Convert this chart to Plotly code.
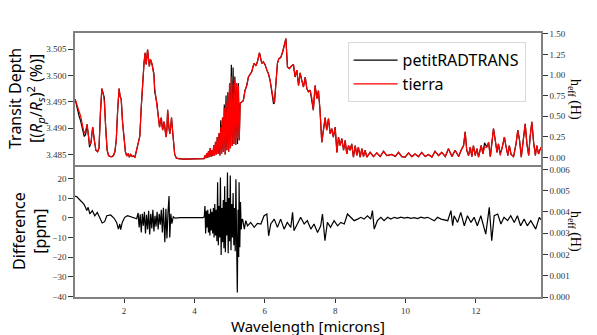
import plotly.graph_objects as go

# ---------------- data ----------------
wl_top = [
    0.61, 0.66, 0.72, 0.77, 0.82, 0.87, 0.91, 0.95, 0.99, 1.02,
    1.06, 1.11, 1.15, 1.20, 1.25, 1.29, 1.33, 1.37, 1.41, 1.44,
    1.48, 1.52, 1.56, 1.61, 1.66, 1.70, 1.74, 1.78, 1.82, 1.86,
    1.89, 1.92, 1.96, 2.00, 2.04, 2.08, 2.12, 2.15, 2.19, 2.23,
    2.27, 2.31, 2.35, 2.38, 2.42, 2.45, 2.49, 2.53, 2.57, 2.60,
    2.63, 2.67, 2.70, 2.72, 2.75, 2.77, 2.80, 2.82, 2.85, 2.87,
    2.91, 2.94, 2.96, 2.99, 3.01, 3.04, 3.06, 3.08, 3.10, 3.13,
    3.15, 3.18, 3.20, 3.22, 3.24, 3.27, 3.30, 3.33, 3.35, 3.38,
    3.40, 3.44, 3.49, 3.55, 3.70, 3.90, 4.10, 4.25,
    4.275, 4.300, 4.325, 4.350, 4.375, 4.400, 4.425, 4.450, 4.475, 4.500,
    4.525, 4.550, 4.575, 4.600, 4.625, 4.650, 4.675, 4.700, 4.725, 4.750,
    4.775, 4.800, 4.825, 4.850, 4.875, 4.900, 4.925, 4.950, 4.975, 5.000,
    5.025, 5.050, 5.075, 5.100, 5.125, 5.150, 5.175, 5.200, 5.225, 5.250,
    5.275, 5.300,
    5.35, 5.39, 5.44, 5.49, 5.535, 5.58, 5.63, 5.68, 5.70, 5.75,
    5.79, 5.85, 5.89, 5.915, 5.96, 6.01, 6.06, 6.10, 6.15, 6.20,
    6.25, 6.275, 6.32, 6.36, 6.40, 6.455, 6.51, 6.56, 6.60, 6.645,
    6.70, 6.76, 6.815, 6.86, 6.91, 6.96, 7.005, 7.05, 7.10, 7.15,
    7.195, 7.24, 7.29, 7.34, 7.38, 7.43, 7.48, 7.525, 7.57, 7.62,
    7.67, 7.715, 7.76, 7.81, 7.86, 7.905, 7.95, 8.00, 8.05, 8.095,
    8.14, 8.19, 8.24, 8.285, 8.33, 8.38, 8.425, 8.47, 8.52, 8.57,
    8.615, 8.66, 8.71, 8.76, 8.805, 8.85, 8.90, 8.995, 9.09, 9.185,
    9.28, 9.375, 9.47,
    9.61, 9.71, 9.80, 9.895, 9.99, 10.085, 10.18, 10.27, 10.37, 10.46,
    10.56, 10.65, 10.75, 10.84, 10.94, 11.03, 11.13, 11.22, 11.32, 11.41,
    11.51, 11.58, 11.65, 11.695, 11.74, 11.79, 11.84, 11.885, 11.93, 11.98,
    12.03, 12.075, 12.15, 12.20, 12.245, 12.31, 12.36, 12.41, 12.455, 12.50,
    12.55, 12.60, 12.64, 12.69, 12.74, 12.81, 12.85, 12.91, 12.95, 13.00,
    13.07, 13.14, 13.19, 13.24, 13.29, 13.35, 13.40, 13.45, 13.50, 13.54,
    13.59, 13.64, 13.69, 13.73, 13.78, 13.85,
]

tierra = [
    3.4955, 3.4945, 3.4932, 3.4922, 3.4905, 3.4890, 3.4895, 3.4907, 3.4885, 3.4868,
    3.4872, 3.4902, 3.4880, 3.4858, 3.4855, 3.4862, 3.4930, 3.4975, 3.4965, 3.4950,
    3.4900, 3.4858, 3.4848, 3.4846, 3.4846, 3.4848, 3.4855, 3.4878, 3.4935, 3.4975,
    3.4960, 3.4955, 3.4910, 3.4876, 3.4855, 3.4847, 3.4852, 3.4845, 3.4850, 3.4846,
    3.4847, 3.4845, 3.4855, 3.4867, 3.4872, 3.4885, 3.4940, 3.4990, 3.5025, 3.5043,
    3.5021, 3.5049, 3.5030, 3.5017, 3.5030, 3.5028, 3.5020, 3.5011, 3.5000, 3.4978,
    3.4959, 3.4945, 3.4931, 3.4915, 3.4902, 3.4915, 3.4920, 3.4905, 3.4896, 3.4912,
    3.4908, 3.4890, 3.4883, 3.4900, 3.4935, 3.4905, 3.4889, 3.4905, 3.4920, 3.4895,
    3.4873, 3.4850, 3.4843, 3.4842, 3.4841, 3.4841, 3.4841, 3.4842,
    3.4842, 3.4848, 3.4843, 3.4852, 3.4844, 3.4856, 3.4845, 3.4862, 3.4846, 3.4858,
    3.4847, 3.4868, 3.4848, 3.4874, 3.4850, 3.4883, 3.4851, 3.4890, 3.4848, 3.4902,
    3.4852, 3.4920, 3.4855, 3.4938, 3.4850, 3.4950, 3.4858, 3.4968, 3.4855, 3.4985,
    3.4862, 3.4998, 3.4866, 3.4985, 3.4870, 3.4992, 3.4868, 3.4985, 3.4880, 3.4980,
    3.4877, 3.4947,
    3.4950, 3.4952, 3.4972, 3.4981, 3.4997, 3.5001, 3.5007, 3.5020, 3.5023, 3.5018,
    3.5026, 3.5043, 3.5032, 3.5023, 3.5026, 3.5020, 3.5010, 3.5004, 3.4991, 3.4969,
    3.4952, 3.4948, 3.4991, 3.5023, 3.5032, 3.5034, 3.5045, 3.5061, 3.5070, 3.5016,
    3.5013, 3.5018, 3.5021, 3.4997, 3.5010, 3.4981, 3.5005, 3.4991, 3.4978, 3.4997,
    3.4975, 3.4969, 3.4972, 3.4956, 3.4934, 3.4981, 3.4956, 3.4971, 3.4934, 3.4873,
    3.4902, 3.4920, 3.4896, 3.4918, 3.4889, 3.4899, 3.4883, 3.4902, 3.4854, 3.4883,
    3.4867, 3.4880, 3.4858, 3.4877, 3.4851, 3.4867, 3.4858, 3.4870, 3.4845, 3.4867,
    3.4848, 3.4864, 3.4845, 3.4861, 3.4846, 3.4858, 3.4845, 3.4854, 3.4846, 3.4853,
    3.4846, 3.4856, 3.4848,
    3.4850, 3.4846, 3.4854, 3.4846, 3.4845, 3.4853, 3.4846, 3.4851, 3.4846, 3.4854,
    3.4846, 3.4850, 3.4845, 3.4856, 3.4848, 3.4854, 3.4846, 3.4861, 3.4846, 3.4858,
    3.4846, 3.4858, 3.4867, 3.4893, 3.4858, 3.4848, 3.4864, 3.4846, 3.4867, 3.4848,
    3.4861, 3.4845, 3.4867, 3.4851, 3.4864, 3.4864, 3.4873, 3.4846, 3.4877, 3.4899,
    3.4877, 3.4854, 3.4870, 3.4848, 3.4861, 3.4883, 3.4867, 3.4848, 3.4867, 3.4850,
    3.4846, 3.4870, 3.4896, 3.4877, 3.4845, 3.4883, 3.4908, 3.4870, 3.4848, 3.4883,
    3.4912, 3.4873, 3.4848, 3.4867, 3.4851, 3.4864,
]

prt = [
    3.4955, 3.4938, 3.4924, 3.4913, 3.4897, 3.4884, 3.4888, 3.4907, 3.4885, 3.4864,
    3.4872, 3.4902, 3.4880, 3.4858, 3.4855, 3.4862, 3.4930, 3.4975, 3.4965, 3.4958,
    3.4900, 3.4858, 3.4848, 3.4846, 3.4846, 3.4848, 3.4855, 3.4878, 3.4935, 3.4975,
    3.4960, 3.4955, 3.4910, 3.4876, 3.4855, 3.4847, 3.4852, 3.4845, 3.4850, 3.4846,
    3.4847, 3.4845, 3.4855, 3.4867, 3.4872, 3.4885, 3.4940, 3.4990, 3.5025, 3.5043,
    3.5021, 3.5049, 3.5030, 3.5017, 3.5030, 3.5028, 3.5020, 3.5011, 3.5003, 3.4970,
    3.4959, 3.4945, 3.4931, 3.4915, 3.4902, 3.4915, 3.4920, 3.4905, 3.4896, 3.4912,
    3.4908, 3.4890, 3.4883, 3.4900, 3.4935, 3.4905, 3.4889, 3.4905, 3.4920, 3.4895,
    3.4873, 3.4850, 3.4843, 3.4842, 3.4841, 3.4841, 3.4841, 3.4842,
    3.4842, 3.4848, 3.4843, 3.4852, 3.4844, 3.4856, 3.4845, 3.4862, 3.4846, 3.4858,
    3.4847, 3.4868, 3.4848, 3.4874, 3.4850, 3.4883, 3.4851, 3.4890, 3.4848, 3.4915,
    3.4852, 3.4920, 3.4855, 3.4945, 3.4850, 3.4962, 3.4858, 3.4968, 3.4855, 3.4985,
    3.4862, 3.5020, 3.4866, 3.5015, 3.4870, 3.4998, 3.4868, 3.4985, 3.4870, 3.4985,
    3.4877, 3.4947,
    3.4950, 3.4952, 3.4972, 3.4981, 3.4997, 3.5001, 3.5007, 3.5020, 3.5023, 3.5018,
    3.5026, 3.5043, 3.5032, 3.5023, 3.5026, 3.5020, 3.5010, 3.5004, 3.4991, 3.4969,
    3.4946, 3.4948, 3.4991, 3.5023, 3.5032, 3.5034, 3.5045, 3.5061, 3.5070, 3.5016,
    3.5013, 3.5018, 3.5021, 3.4997, 3.5010, 3.4981, 3.5005, 3.4991, 3.4978, 3.4997,
    3.4975, 3.4969, 3.4972, 3.4950, 3.4934, 3.4981, 3.4956, 3.4971, 3.4934, 3.4873,
    3.4902, 3.4920, 3.4896, 3.4918, 3.4889, 3.4899, 3.4883, 3.4902, 3.4854, 3.4883,
    3.4867, 3.4880, 3.4858, 3.4877, 3.4851, 3.4867, 3.4858, 3.4870, 3.4845, 3.4867,
    3.4848, 3.4864, 3.4845, 3.4861, 3.4846, 3.4858, 3.4845, 3.4854, 3.4846, 3.4853,
    3.4846, 3.4856, 3.4848,
    3.4850, 3.4846, 3.4854, 3.4846, 3.4845, 3.4853, 3.4846, 3.4851, 3.4846, 3.4854,
    3.4846, 3.4850, 3.4845, 3.4856, 3.4848, 3.4854, 3.4846, 3.4861, 3.4846, 3.4858,
    3.4846, 3.4858, 3.4867, 3.4893, 3.4858, 3.4848, 3.4864, 3.4846, 3.4867, 3.4848,
    3.4861, 3.4845, 3.4867, 3.4851, 3.4872, 3.4864, 3.4873, 3.4846, 3.4877, 3.4899,
    3.4877, 3.4854, 3.4870, 3.4852, 3.4861, 3.4883, 3.4867, 3.4848, 3.4867, 3.4850,
    3.4846, 3.4870, 3.4896, 3.4877, 3.4845, 3.4883, 3.4908, 3.4870, 3.4848, 3.4883,
    3.4912, 3.4873, 3.4848, 3.4867, 3.4851, 3.4864,
]

wl_diff = [
    0.61, 0.67, 0.72, 0.78, 0.86, 0.90, 0.94, 0.98, 1.03, 1.10,
    1.17, 1.24, 1.32, 1.38, 1.45, 1.51, 1.62, 1.72, 1.79, 1.84,
    1.88, 1.905, 1.95, 2.02, 2.10, 2.20, 2.28, 2.36,
    2.40, 2.43, 2.46, 2.49, 2.52, 2.55, 2.58, 2.61, 2.64, 2.67,
    2.70, 2.73, 2.76, 2.79, 2.82, 2.85, 2.88, 2.91, 2.94, 2.97,
    3.00, 3.03, 3.06, 3.09, 3.12, 3.16, 3.19, 3.22, 3.25, 3.28,
    3.30, 3.33, 3.36, 3.40, 3.45, 3.60, 4.00, 4.25,
    4.28, 4.30, 4.32, 4.34, 4.36, 4.38, 4.40, 4.42, 4.44, 4.46,
    4.48, 4.50, 4.52, 4.54, 4.56, 4.58, 4.60, 4.62, 4.64, 4.66,
    4.68, 4.70, 4.72, 4.74, 4.76, 4.78, 4.80, 4.82, 4.84, 4.86,
    4.88, 4.90, 4.92, 4.94, 4.96, 4.98, 5.00, 5.02, 5.04, 5.06,
    5.08, 5.10, 5.12, 5.14, 5.16, 5.18, 5.20, 5.22, 5.24, 5.26,
    5.27, 5.29, 5.31, 5.33, 5.35, 5.37,
    5.42, 5.46, 5.51, 5.60, 5.70, 5.79, 5.89, 5.98, 6.06, 6.11,
    6.17, 6.27, 6.36, 6.45, 6.55, 6.64, 6.74, 6.79, 6.83, 6.93,
    7.02, 7.12, 7.21, 7.31, 7.40, 7.50, 7.59, 7.64, 7.71, 7.78,
    7.87, 7.97, 8.07, 8.16, 8.26, 8.35, 8.45, 8.54, 8.64, 8.73,
    8.82, 8.92, 9.01, 9.06, 9.11, 9.20, 9.30, 9.39, 9.49, 9.58,
    9.68, 9.77, 9.87, 9.96, 10.06, 10.15, 10.25, 10.34, 10.44, 10.53,
    10.63, 10.72, 10.82, 10.91, 11.01, 11.20, 11.29, 11.34, 11.38, 11.48,
    11.57, 11.67, 11.76, 11.86, 11.95, 12.04, 12.14, 12.28, 12.38, 12.45,
    12.52, 12.62, 12.71, 12.80, 12.90, 12.99, 13.09, 13.18, 13.27, 13.37,
    13.46, 13.56, 13.70, 13.80, 13.85,
]

diff_ppm = [
    11.0, 10.5, 9.5, 8.5, 6.9, 5.5, 3.6, 5.3, 1.9, 3.6,
    1.0, 2.7, -0.3, -2.7, -2.0, 1.0, 1.4, -0.3, -2.4, -5.8,
    -3.2, -6.1, -2.4, 0.2, 1.0, 0.5, 0.2, -0.5,
    2.5, -5.0, 1.8, -7.5, 2.0, -4.0, 3.0, -8.0, 1.5, -6.0,
    3.5, -8.5, 2.0, -5.5, 4.0, -7.0, 1.0, -4.5, 3.0, -6.0,
    2.0, -3.5, 4.0, -7.5, 5.0, -12.5, 4.5, -10.5, 3.0, 11.0,
    -10.0, 2.0, -3.0, 0.5, -0.2, 0.0, 0.0, 0.0,
    0.5, 6.0, -8.0, 3.5, -5.0, 4.0, -7.5, 2.0, -9.0, 4.5,
    -6.5, 3.0, -8.0, 5.0, -10.0, 7.0, -9.0, 4.0, -12.0, 18.0,
    -14.0, 6.0, -10.0, 20.5, -19.0, 5.0, -12.5, 9.0, -15.5, 16.0,
    -17.5, 8.0, -9.0, 23.0, -18.0, 10.0, -12.0, 21.5, -16.5, 7.0,
    -10.0, 12.5, -14.0, 5.0, -17.0, 19.5, -12.0, -38.0, 4.0, -20.0,
    18.0, -15.0, 8.0, -6.0, -1.0, -0.7,
    -5.8, -1.5, -4.1, -2.4, -4.9, -2.9, -3.2, 1.0, 1.9, -9.2,
    -3.2, -0.7, -4.9, -0.7, -5.8, -2.4, -4.9, 2.7, -6.6, -3.2,
    0.2, -3.2, -1.5, -5.8, -3.2, -7.5, -4.1, 1.9, -11.7, -2.4,
    -4.9, -1.5, -4.1, -2.4, -3.2, 1.9, 0.2, -1.5, -0.7, 0.2,
    -0.7, 1.0, -0.7, 3.6, -5.8, -1.5, 0.2, -1.5, 0.2, -0.7,
    0.2, -0.3, 0.3, -0.2, 0.2, -0.3, 0.0, -0.4, 0.3, -0.2,
    0.2, -0.5, -1.5, 0.2, -0.7, -1.5, 3.6, -4.1, 1.0, -2.4,
    2.7, -4.1, 1.0, -2.4, 0.2, -4.1, 1.0, -8.3, 5.3, -11.7,
    1.0, 1.9, -3.2, 0.2, -1.5, 1.0, -2.4, 1.0, -4.1, -0.7,
    -4.1, -1.5, -5.8, 0.2, -1.0,
]

assert len(wl_top) == len(tierra) == len(prt)
assert len(wl_diff) == len(diff_ppm)

x_ticks = [2, 4, 6, 8, 10, 12]
depth_ticks = [3.485, 3.490, 3.495, 3.500, 3.505]
heff_top_ticks = [0.00, 0.25, 0.50, 0.75, 1.00, 1.25, 1.50]
diff_ticks = [-40, -30, -20, -10, 0, 10, 20]
heff_bot_ticks = [0.000, 0.001, 0.002, 0.003, 0.004, 0.005, 0.006]

# ---------------- styling ----------------
FRAME = "#808080"
TICKFONT = dict(family="Liberation Serif, serif", size=9, color="#333333")
SANS = "Noto Sans, Open Sans, sans-serif"

fig = go.Figure()

fig.add_trace(go.Scatter(x=wl_top, y=prt, mode="lines", name="petitRADTRANS",
                         line=dict(color="black", width=1.2),
                         xaxis="x2", yaxis="y2"))
fig.add_trace(go.Scatter(x=wl_top, y=tierra, mode="lines", name="tierra",
                         line=dict(color="#ff0000", width=1.2),
                         xaxis="x2", yaxis="y2"))
fig.add_trace(go.Scatter(x=wl_diff, y=diff_ppm, mode="lines", showlegend=False,
                         line=dict(color="black", width=1.2),
                         xaxis="x", yaxis="y"))
# invisible traces to activate right-hand axes
fig.add_trace(go.Scatter(x=[None], y=[None], mode="lines", showlegend=False,
                         hoverinfo="skip", xaxis="x2", yaxis="y3"))
fig.add_trace(go.Scatter(x=[None], y=[None], mode="lines", showlegend=False,
                         hoverinfo="skip", xaxis="x", yaxis="y4"))

common_y = dict(showgrid=False, zeroline=False, showline=True, linecolor=FRAME,
                linewidth=1.6, ticks="outside", ticklen=5, tickwidth=1,
                tickcolor="#333333", tickfont=TICKFONT)

fig.update_layout(
    width=597, height=335,
    paper_bgcolor="white", plot_bgcolor="white",
    margin=dict(l=75, r=56, t=33, b=38),
    showlegend=True,
    legend=dict(x=0.585, y=0.965, xanchor="left", yanchor="top",
                bgcolor="rgba(255,255,255,0.9)", bordercolor="#d9d9d9",
                borderwidth=1, font=dict(family=SANS, size=16, color="black"),
                itemwidth=44, tracegroupgap=2),
    xaxis=dict(domain=[0, 1], anchor="y", range=[0.607, 13.85],
               tickvals=x_ticks, ticktext=[str(v) for v in x_ticks],
               showgrid=False, zeroline=False, showline=True, mirror=False,
               linecolor=FRAME, linewidth=1.6, ticks="outside", ticklen=4,
               tickcolor="#333333", tickfont=TICKFONT),
    xaxis2=dict(domain=[0, 1], anchor="y2", range=[0.607, 13.85],
                matches="x", showticklabels=False, showgrid=False,
                zeroline=False, showline=True, mirror=True, linecolor=FRAME,
                linewidth=1.6, ticks=""),
    yaxis=dict(domain=[0, 0.5], anchor="x", range=[-40.3, 26.8],
               tickvals=diff_ticks, **common_y),
    yaxis2=dict(domain=[0.5, 1], anchor="x2", range=[3.4830, 3.50805],
                tickvals=depth_ticks, tickformat=".3f", **common_y),
    yaxis3=dict(overlaying="y2", side="right", anchor="x2",
                range=[-0.091, 1.512], tickvals=heff_top_ticks,
                tickformat=".2f", **common_y),
    yaxis4=dict(overlaying="y", side="right", anchor="x",
                range=[0, 0.00621], tickvals=heff_bot_ticks,
                tickformat=".3f", **common_y),
)

ann = []
ann.append(dict(text="Transit Depth<br>[(<i>R<sub>p</sub></i>/<i>R<sub>s</sub></i>)<sup>2</sup> (%)]",
                xref="paper", yref="paper", x=0, y=0.75, xanchor="center",
                yanchor="middle", xshift=-49, textangle=-90, showarrow=False,
                font=dict(family=SANS, size=16, color="black")))
ann.append(dict(text="Difference<br>[ppm]", xref="paper", yref="paper",
                x=0, y=0.25, xanchor="center", yanchor="middle", xshift=-46,
                textangle=-90, showarrow=False,
                font=dict(family=SANS, size=16, color="black")))
ann.append(dict(text="Wavelength [microns]", xref="paper", yref="paper",
                x=0.5, y=0, xanchor="center", yanchor="middle", yshift=-29,
                showarrow=False, font=dict(family=SANS, size=15, color="black")))
for yy in (0.75, 0.25):
    ann.append(dict(text="h<sub>eff</sub> (H)", xref="paper", yref="paper",
                    x=1, y=yy, xanchor="center", yanchor="middle", xshift=34,
                    textangle=90, showarrow=False,
                    font=dict(family="Liberation Serif, serif", size=14,
                              color="black")))
fig.update_layout(annotations=ann)

fig.write_html("out.html",
               config={"displayModeBar": False},
               post_script="document.body.style.margin='0';")
